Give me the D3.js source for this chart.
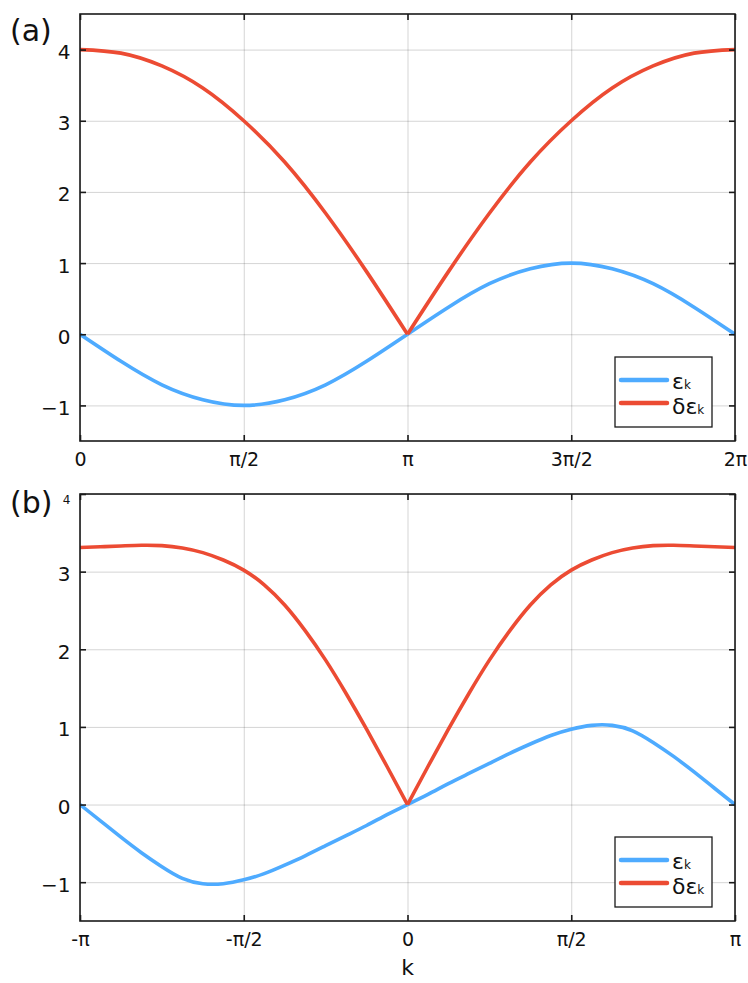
<!DOCTYPE html>
<html>
<head>
<meta charset="utf-8">
<script src="https://cdn.jsdelivr.net/npm/d3@7"></script>
<style>
  body { margin: 0; background: #fff; }
  svg { display: block; }
  text { font-family: "DejaVu Sans", sans-serif; fill: #111; }
</style>
</head>
<body>
<svg id="chart"></svg>
<script>
// k values are in units of π

// Panel (a): k from 0 to 2π, step π/8
const kA = [0, 0.125, 0.25, 0.375, 0.5, 0.625, 0.75, 0.875, 1,
            1.125, 1.25, 1.375, 1.5, 1.625, 1.75, 1.875, 2];
const epsA = [0, -0.38, -0.71, -0.92, -1.00, -0.92, -0.71, -0.38, 0,
              0.38, 0.71, 0.92, 1.00, 0.92, 0.71, 0.38, 0];
const dEpsA = [4.00, 3.95, 3.77, 3.46, 3.00, 2.42, 1.70, 0.88, 0,
               0.88, 1.70, 2.42, 3.00, 3.46, 3.77, 3.95, 4.00];

// Panel (b): k from -π to π, step π/16
const kB = [-1, -0.9375, -0.875, -0.8125, -0.75, -0.6875, -0.625, -0.5625, -0.5,
            -0.4375, -0.375, -0.3125, -0.25, -0.1875, -0.125, -0.0625, 0,
            0.0625, 0.125, 0.1875, 0.25, 0.3125, 0.375, 0.4375, 0.5,
            0.5625, 0.625, 0.6875, 0.75, 0.8125, 0.875, 0.9375, 1];
const epsB = [0, -0.21, -0.42, -0.62, -0.80, -0.95, -1.02, -1.02, -0.97,
              -0.89, -0.78, -0.66, -0.53, -0.40, -0.27, -0.13, 0,
              0.13, 0.27, 0.40, 0.53, 0.66, 0.78, 0.89, 0.97,
              1.02, 1.02, 0.95, 0.80, 0.62, 0.42, 0.21, 0];
const dEpsB = [3.31, 3.32, 3.33, 3.34, 3.335, 3.305, 3.245, 3.15, 3.02,
               2.83, 2.57, 2.24, 1.86, 1.43, 0.97, 0.49, 0,
               0.49, 0.97, 1.43, 1.86, 2.24, 2.57, 2.83, 3.02,
               3.15, 3.245, 3.305, 3.335, 3.34, 3.33, 3.32, 3.31];

// ticks
const xTicksA = [0, 0.5, 1, 1.5, 2];
const xLabelsA = ['0', 'π/2', 'π', '3π/2', '2π'];
const xTicksB = [-1, -0.5, 0, 0.5, 1];
const xLabelsB = ['-π', '-π/2', '0', 'π/2', 'π'];
const yTicks = [-1, 0, 1, 2, 3, 4];

const seriesNames = ['ε', 'δε'];
const colors = ['#4eabff', '#ec4b33'];

const W = 748, H = 983;
const left = 80, right = 735;

const panels = [
  { tag: '(a)', top: 14, bottom: 441, xDomain: [0, 2], yDomain: [-1.5, 4.5],
    k: kA, eps: epsA, dEps: dEpsA, xTicks: xTicksA, xLabels: xLabelsA,
    tagY: 41, smallTop: false },
  { tag: '(b)', top: 494, bottom: 921, xDomain: [-1, 1], yDomain: [-1.5, 4],
    k: kB, eps: epsB, dEps: dEpsB, xTicks: xTicksB, xLabels: xLabelsB,
    tagY: 512.5, smallTop: true }
];

const svg = d3.select('#chart').attr('width', W).attr('height', H);

panels.forEach((p, pi) => {
  const x = d3.scaleLinear().domain(p.xDomain).range([left, right]);
  const y = d3.scaleLinear().domain(p.yDomain).range([p.bottom, p.top]);
  const h = p.bottom - p.top;
  const g = svg.append('g');

  // grid
  g.append('g')
    .attr('transform', `translate(0,${p.bottom})`)
    .call(d3.axisBottom(x).tickValues(p.xTicks).tickSize(-h).tickFormat(''))
    .call(s => s.select('.domain').remove())
    .selectAll('line').attr('stroke', '#000').attr('stroke-opacity', 0.17);
  g.append('g')
    .attr('transform', `translate(${left},0)`)
    .call(d3.axisLeft(y).tickValues(yTicks).tickSize(-(right - left)).tickFormat(''))
    .call(s => s.select('.domain').remove())
    .selectAll('line').attr('stroke', '#000').attr('stroke-opacity', 0.17);

  // curves
  const clipId = 'clip' + pi;
  g.append('clipPath').attr('id', clipId)
    .append('rect').attr('x', left).attr('y', p.top)
    .attr('width', right - left).attr('height', h);

  const pts = vals => p.k.map((k, i) => [k, vals[i]]);
  const line = d3.line().x(d => x(d[0])).y(d => y(d[1])).curve(d3.curveNatural);
  const curves = g.append('g').attr('clip-path', `url(#${clipId})`);

  curves.append('path')
    .attr('d', line(pts(p.eps)))
    .attr('fill', 'none').attr('stroke', colors[0])
    .attr('stroke-width', 3.6).attr('stroke-linejoin', 'round');

  // δε has a cusp at its minimum: draw the two branches separately
  const dPts = pts(p.dEps);
  const iMin = d3.minIndex(p.dEps);
  [dPts.slice(0, iMin + 1), dPts.slice(iMin)].forEach(seg => {
    curves.append('path')
      .attr('d', line(seg))
      .attr('fill', 'none').attr('stroke', colors[1])
      .attr('stroke-width', 3.6).attr('stroke-linejoin', 'round');
  });

  // frame
  g.append('rect')
    .attr('x', left).attr('y', p.top)
    .attr('width', right - left).attr('height', h)
    .attr('fill', 'none').attr('stroke', '#1a1a1a').attr('stroke-width', 1.6);

  // axes (ticks point inward, mirrored on all sides)
  const styleTicks = s => {
    s.select('.domain').remove();
    s.selectAll('.tick line').attr('stroke', '#1a1a1a').attr('stroke-width', 1.6);
  };

  const xAxis = g.append('g')
    .attr('transform', `translate(0,${p.bottom})`)
    .call(d3.axisBottom(x).tickValues(p.xTicks)
      .tickFormat((d, i) => p.xLabels[i]).tickSizeInner(-6).tickSizeOuter(0).tickPadding(12))
    .call(styleTicks);
  xAxis.selectAll('text').attr('font-size', 19).attr('fill', '#111');

  g.append('g')
    .attr('transform', `translate(0,${p.top})`)
    .call(d3.axisTop(x).tickValues(p.xTicks).tickFormat('').tickSizeInner(-6).tickSizeOuter(0))
    .call(styleTicks);

  const yAxis = g.append('g')
    .attr('transform', `translate(${left},0)`)
    .call(d3.axisLeft(y).tickValues(yTicks)
      .tickFormat(d => d < 0 ? '\u2212' + Math.abs(d) : String(d))
      .tickSizeInner(-6).tickSizeOuter(0).tickPadding(9.5))
    .call(styleTicks);
  yAxis.selectAll('text')
    .attr('font-size', 20).attr('dy', '0.45em').attr('fill', '#111');
  if (p.smallTop) {
    yAxis.selectAll('.tick').filter(d => d === 4).select('text')
      .attr('font-size', 12).attr('dy', '0.78em');
  }

  g.append('g')
    .attr('transform', `translate(${right},0)`)
    .call(d3.axisRight(y).tickValues(yTicks).tickFormat('').tickSizeInner(-6).tickSizeOuter(0))
    .call(styleTicks);

  // panel tag
  g.append('text')
    .attr('x', 10).attr('y', p.tagY)
    .attr('font-size', 30)
    .text(p.tag);

  // legend
  const lg = g.append('g')
    .attr('transform', `translate(${right - 120},${p.bottom - 84})`);
  lg.append('rect')
    .attr('width', 97).attr('height', 70)
    .attr('fill', '#fff').attr('stroke', '#1a1a1a').attr('stroke-width', 1.3);
  seriesNames.forEach((name, i) => {
    const ly = 23 + 23 * i;
    lg.append('line')
      .attr('x1', 6).attr('x2', 52).attr('y1', ly).attr('y2', ly)
      .attr('stroke', colors[i]).attr('stroke-width', 4.5).attr('stroke-linecap', 'round');
    const t = lg.append('text').attr('x', 57).attr('y', ly + 9 + 2 * i);
    t.append('tspan').attr('font-size', 22).text(name);
    t.append('tspan').attr('font-size', 12).text('k');
  });

  // x axis title only on the bottom panel
  if (pi === panels.length - 1) {
    g.append('text')
      .attr('x', (left + right) / 2).attr('y', p.bottom + 54)
      .attr('text-anchor', 'middle')
      .attr('font-size', 22)
      .text('k');
  }
});
</script>
</body>
</html>
